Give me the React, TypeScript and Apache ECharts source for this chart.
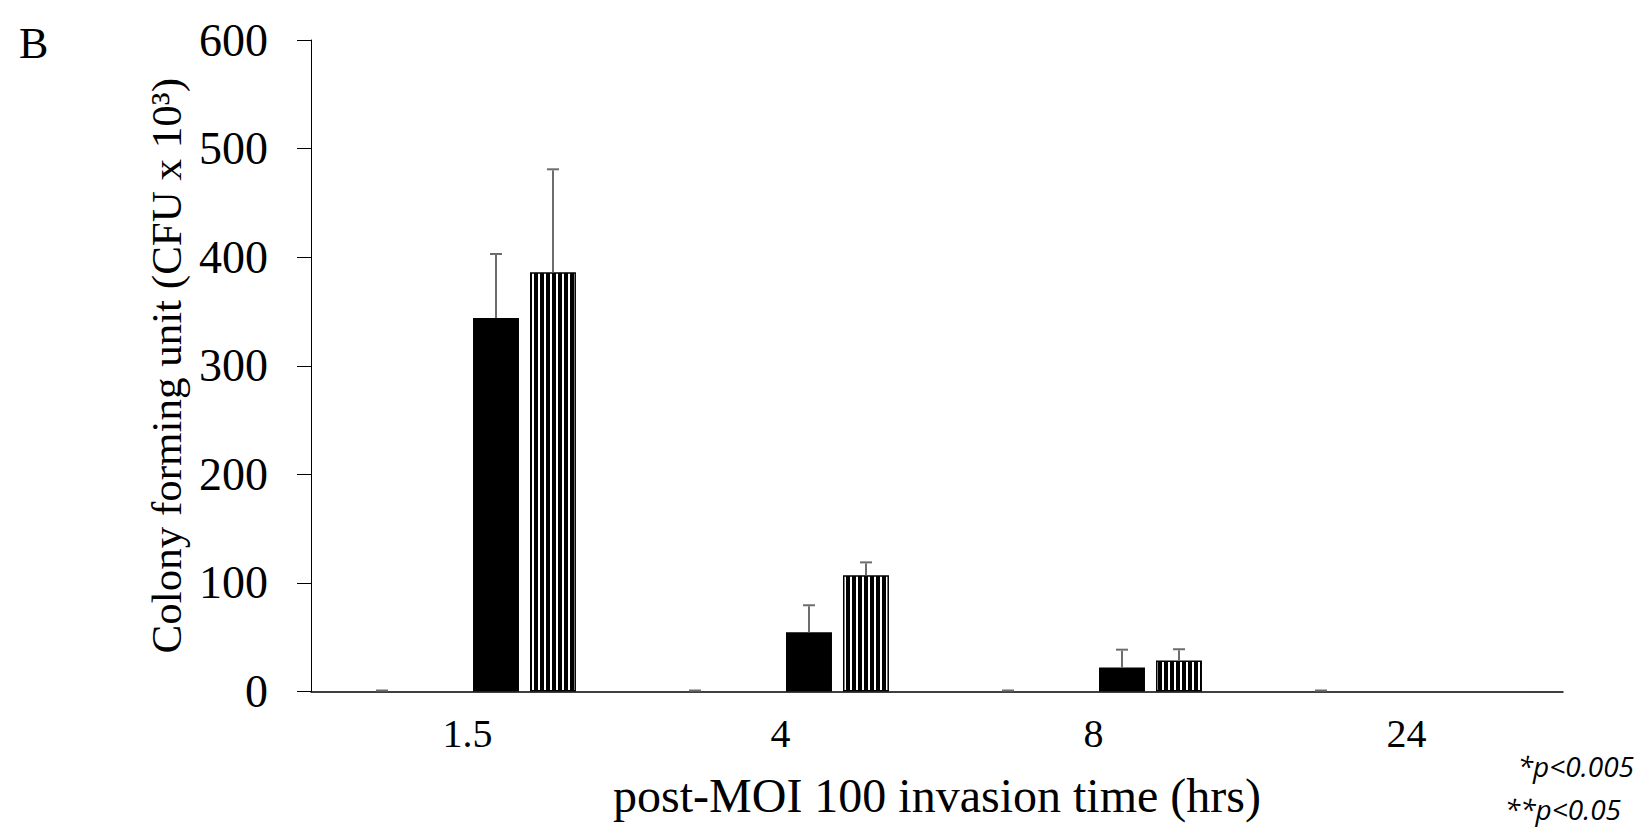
import React, { useEffect, useRef } from "react";
import * as echarts from "echarts";

const categories = ["1.5", "4", "8", "24"];
const seriesNames = ["Group 1", "Group 2", "Group 3", "Group 4"];
const valuesA = [0, 0, 0, 0];
const errorsA: (number | null)[] = [0, 0, 0, 0];
const valuesB = [0, 0, 0, 0];
const errorsB: (number | null)[] = [null, null, null, null];
const valuesC = [344, 54.5, 22, 0];
const errorsC: (number | null)[] = [58, 24, 15.6, null];
const valuesD = [386, 107, 28.5, 0];
const errorsD: (number | null)[] = [94, 11, 9.5, null];
const yMin = 0;
const yMax = 600;
const yInterval = 100;

const xAxisTitle = "post-MOI 100 invasion time (hrs)";
const yAxisTitle = "Colony forming unit (CFU x 10\u00b3)";
const panelLabel = "B";
const footnote1 = "*p<0.005";
const footnote2 = "**p<0.05";

const CAT_GAP = 0.307;
const BAR_GAP = 0.24;
const SERIF = "'Liberation Serif', 'Times New Roman', serif";
const SANS = "'Open Sans', 'Liberation Sans', sans-serif";

export default function App() {
  const ref = useRef<HTMLDivElement>(null);

  useEffect(() => {
    if (!ref.current) return;
    const chart = echarts.init(ref.current, null, { renderer: "svg" });

    const cv = document.createElement("canvas");
    cv.width = 6;
    cv.height = 6;
    const ctx = cv.getContext("2d")!;
    ctx.fillStyle = "#000";
    ctx.fillRect(0, 0, 6, 6);
    ctx.fillStyle = "#fff";
    ctx.fillRect(4, 0, 2, 6);
    const stripe: any = { image: cv, repeat: "repeat", imageWidth: 6, imageHeight: 6 };

    const nSeries = 4;
    const errSeries = (idx: number, values: number[], errors: (number | null)[]) => ({
      type: "custom",
      name: seriesNames[idx] + " error",
      z: 10,
      silent: true,
      renderItem: (params: any, api: any) => {
        const cat = api.value(0);
        const v = api.value(1);
        const e = api.value(2);
        const band = api.size([1, 0])[0];
        const barW = (band * (1 - CAT_GAP)) / (nSeries + (nSeries - 1) * BAR_GAP);
        const off = (idx - (nSeries - 1) / 2) * barW * (1 + BAR_GAP);
        const base = api.coord([cat, v]);
        const top = api.coord([cat, v + e]);
        const x = base[0] + off;
        const cap = 6;
        const st = { stroke: "#6d6d6d", lineWidth: 2 };
        return {
          type: "group",
          children: [
            { type: "line", shape: { x1: x, y1: base[1], x2: x, y2: top[1] }, style: st },
            { type: "line", shape: { x1: x - cap, y1: top[1] - 1, x2: x + cap, y2: top[1] - 1 }, style: st },
          ],
        };
      },
      data: categories
        .map((c, i) => (errors[i] == null ? null : [i, values[i], errors[i]]))
        .filter((d) => d != null),
    });

    const barData = (values: number[]) =>
      values.map((v) => (v === 0 ? { value: v, itemStyle: { borderWidth: 0 } } : v));

    const barItem = (fill: any, bw: number) => ({
      color: fill,
      borderColor: "#000",
      borderWidth: bw,
    });

    const gaps = { barGap: BAR_GAP * 100 + "%", barCategoryGap: CAT_GAP * 100 + "%" };

    chart.setOption({
      animation: false,
      backgroundColor: "#fff",
      grid: { left: 311, right: 77, top: 40, bottom: 135.5, containLabel: false },
      xAxis: {
        type: "category",
        data: categories,
        axisLine: { show: true, lineStyle: { color: "#000", width: 1.5 } },
        axisTick: { show: false },
        axisLabel: { fontFamily: SERIF, fontSize: 40, color: "#000", margin: 22 },
        name: xAxisTitle,
        nameLocation: "middle",
        nameGap: 80,
        nameTextStyle: { fontFamily: SERIF, fontSize: 48, color: "#000" },
      },
      yAxis: {
        type: "value",
        min: yMin,
        max: yMax,
        interval: yInterval,
        splitLine: { show: false },
        axisLine: { show: true, lineStyle: { color: "#000", width: 1 } },
        axisTick: { show: true, inside: false, length: 14, lineStyle: { color: "#000", width: 1 } },
        axisLabel: { fontFamily: SERIF, fontSize: 46, color: "#000", margin: 43 },
        name: yAxisTitle,
        nameLocation: "middle",
        nameGap: 117,
        nameRotate: 90,
        nameTextStyle: { fontFamily: SERIF, fontSize: 43, color: "#000" },
      },
      series: [
        { type: "bar", name: seriesNames[0], data: barData(valuesA), ...gaps, itemStyle: barItem("#000", 0) },
        { type: "bar", name: seriesNames[1], data: barData(valuesB), ...gaps, itemStyle: barItem("#000", 0) },
        { type: "bar", name: seriesNames[2], data: barData(valuesC), ...gaps, itemStyle: barItem("#000", 1.5) },
        { type: "bar", name: seriesNames[3], data: barData(valuesD), ...gaps, itemStyle: barItem(stripe, 1.5) },
        errSeries(0, valuesA, errorsA),
        errSeries(1, valuesB, errorsB),
        errSeries(2, valuesC, errorsC),
        errSeries(3, valuesD, errorsD),
      ],
      graphic: [
        {
          type: "text",
          left: 19,
          top: 21,
          style: { text: panelLabel, font: `44px ${SERIF}`, fill: "#000" },
        },
        {
          type: "text",
          right: 6,
          top: 752,
          style: { text: footnote1, font: `italic 28px ${SANS}`, fill: "#000" },
        },
        {
          type: "text",
          right: 19,
          top: 795,
          style: { text: footnote2, font: `italic 28px ${SANS}`, fill: "#000" },
        },
      ],
    });

    return () => chart.dispose();
  }, []);

  return (
    <div
      ref={ref}
      style={{ position: "fixed", left: 0, top: 0, width: 1640, height: 827, background: "#fff" }}
    />
  );
}
